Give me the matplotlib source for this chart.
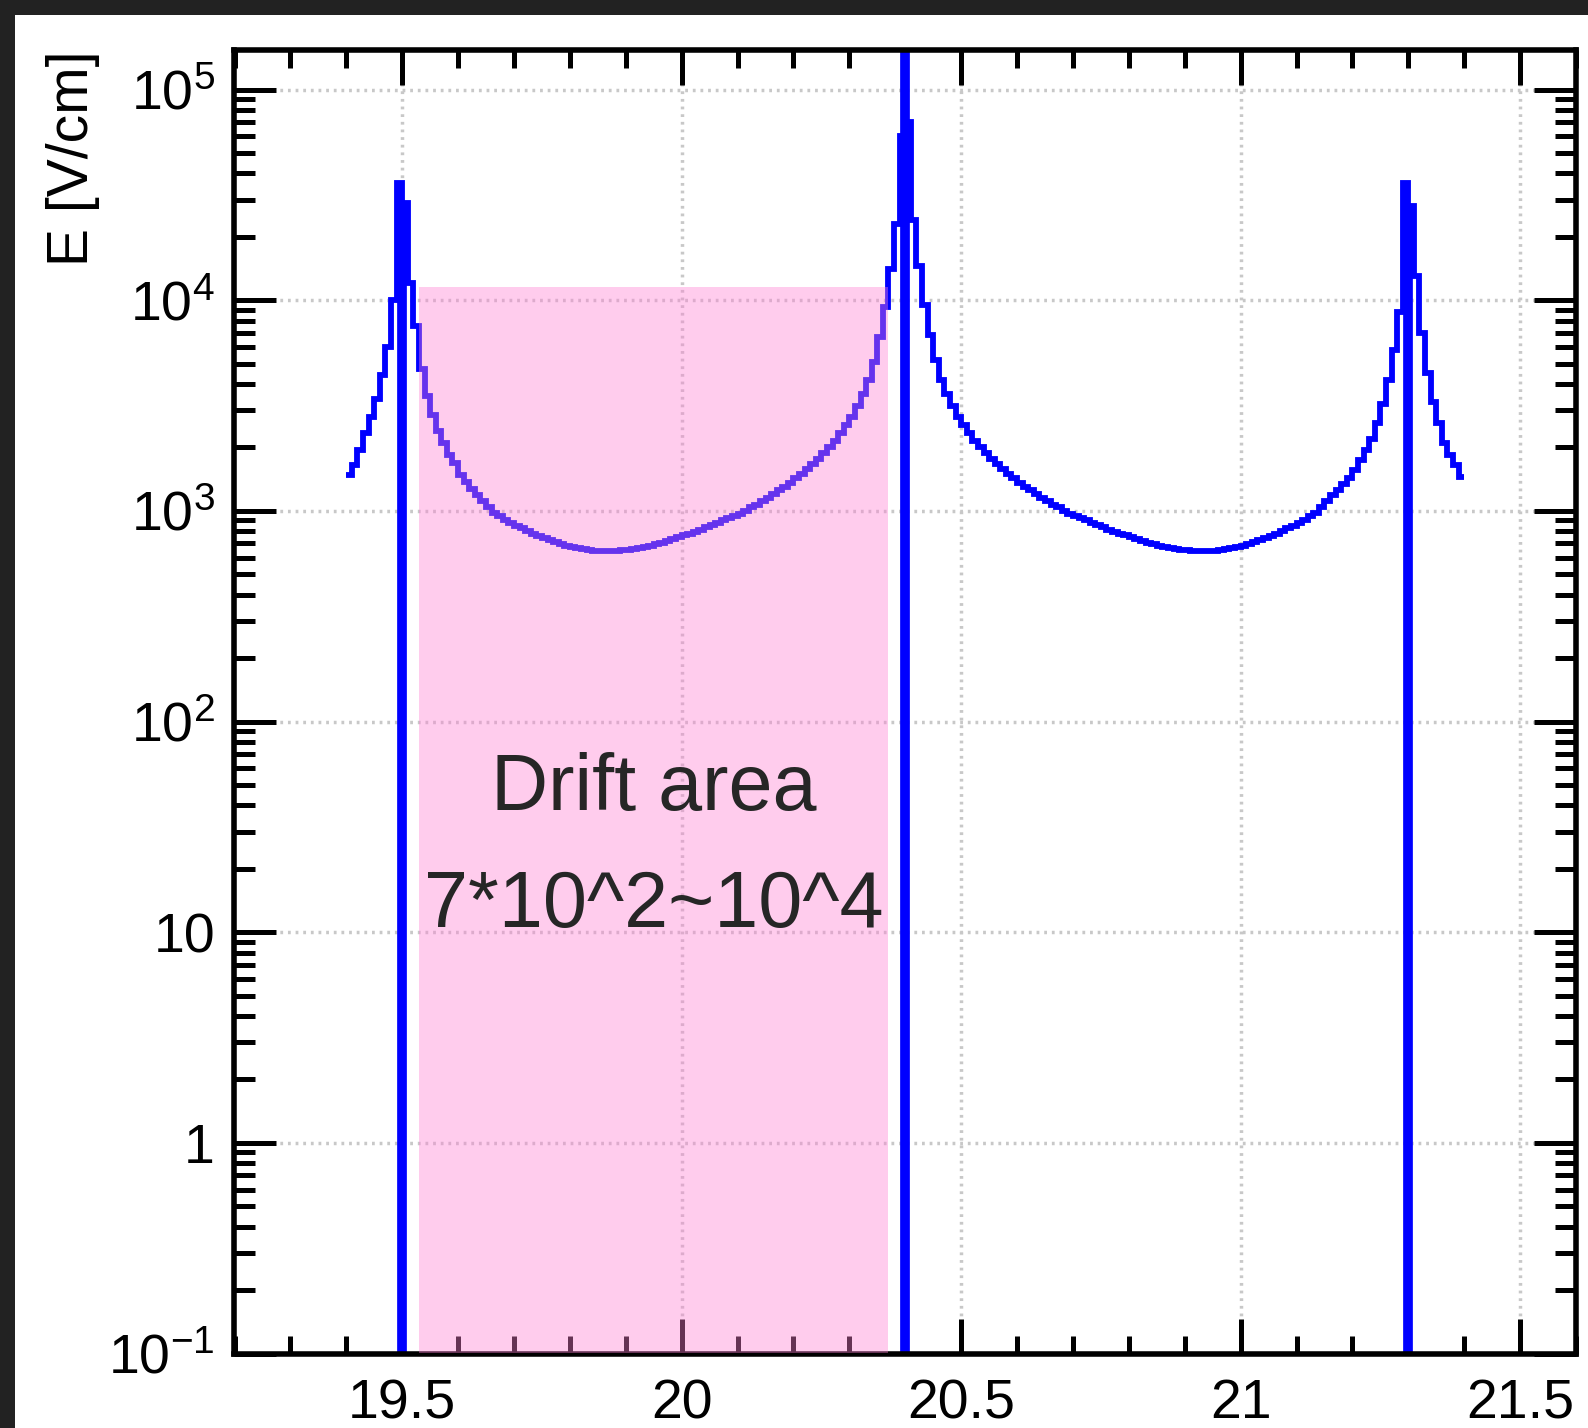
import matplotlib
matplotlib.use('Agg')
import matplotlib.pyplot as plt
import numpy as np
from matplotlib.patches import Rectangle
from matplotlib.ticker import FixedLocator, MultipleLocator, LogLocator, NullFormatter

plt.rcParams['font.family'] = ['Liberation Sans', 'DejaVu Sans']
plt.rcParams['mathtext.fontset'] = 'custom'
plt.rcParams['mathtext.rm'] = 'Liberation Sans'
plt.rcParams['mathtext.it'] = 'Liberation Sans:italic'
plt.rcParams['mathtext.bf'] = 'Liberation Sans:bold'

# field histogram: 200 bins of 0.01 between 19.4 and 21.4
x_lo, x_hi, n_bins = 19.4, 21.4, 200
field = [
    1480, 1650, 1950, 2330, 2800, 3400, 4400, 6000, 10000, 36000,
    29000, 12000, 7500, 4700, 3500, 2850, 2400, 2100, 1850, 1680,
    1480, 1370, 1270, 1190, 1110, 1040, 980, 940, 905, 875,
    850, 825, 800, 780, 762, 745, 727, 710, 695, 682,
    672, 664, 657, 652, 648, 646, 645, 645, 647, 650,
    653, 658, 665, 672, 683, 695, 705, 720, 735, 750,
    765, 780, 795, 815, 835, 855, 875, 900, 920, 945,
    970, 1000, 1040, 1070, 1110, 1150, 1200, 1250, 1300, 1360,
    1430, 1500, 1580, 1670, 1770, 1880, 2000, 2150, 2350, 2550,
    2800, 3150, 3600, 4200, 5100, 6700, 9300, 14000, 23000, 60000,
    70000, 24000, 14500, 9500, 6800, 5200, 4200, 3600, 3150, 2800,
    2550, 2350, 2150, 2000, 1880, 1770, 1670, 1580, 1500, 1430,
    1360, 1300, 1250, 1200, 1150, 1110, 1070, 1040, 1000, 970,
    945, 920, 900, 875, 855, 835, 815, 795, 780, 765,
    750, 735, 720, 705, 695, 683, 672, 665, 658, 653,
    650, 647, 645, 645, 646, 648, 652, 657, 664, 672,
    682, 695, 710, 727, 745, 762, 780, 800, 825, 850,
    875, 905, 940, 980, 1040, 1110, 1185, 1260, 1340, 1430,
    1560, 1740, 1950, 2200, 2600, 3200, 4200, 5800, 8800, 36000,
    28000, 13000, 7000, 4500, 3300, 2600, 2100, 1850, 1650, 1450,
]

# wires (field goes to zero inside -> line down to the bottom)
wire_x = [19.5, 20.4, 21.3]
wire_top = [29000, 2e5, 28000]

# drift region box
drift_x = [19.53, 20.37]
drift_top = 1.15e4
drift_text = ['Drift area', '7*10^2~10^4']

x_ticks = [19.5, 20, 20.5, 21, 21.5]
x_tick_labels = ['19.5', '20', '20.5', '21', '21.5']
y_ticks = [0.1, 1, 10, 100, 1e3, 1e4, 1e5]
y_tick_labels = [r'$10^{-1}$', '1', '10', r'$10^{2}$', r'$10^{3}$', r'$10^{4}$', r'$10^{5}$']

x_min, x_max = 19.2, 21.6
y_min, y_max = 0.1, 1.54e5

W, H = 1588, 1428
fig = plt.figure(figsize=(W / 100, H / 100), dpi=100)
fig.patch.set_facecolor('#222222')
fig.add_artist(Rectangle((15 / W, 0), 1, 1 - 15 / H, transform=fig.transFigure,
                         facecolor='white', edgecolor='none', zorder=-10))

ax = fig.add_axes([234.5 / W, (H - 1353.5) / H, (1576 - 234.5) / W, (1353.5 - 50) / H])
ax.set_yscale('log')

edges = np.linspace(x_lo, x_hi, n_bins + 1)
ax.stairs(field, edges, baseline=None, color='#0000ff', lw=4.2, zorder=2)
ax.vlines(wire_x, y_min, wire_top, color='#0000ff', lw=7, zorder=2)

# drift area shading drawn on top (tints the curve purple)
ax.fill_between(drift_x, y_min, drift_top, color='#ff80d4', alpha=0.4, lw=0, zorder=3)
ax.text(np.mean(drift_x), 38, drift_text[0], ha='center', va='baseline',
        fontsize=57, color='#262626', zorder=5)
ax.text(np.mean(drift_x), 10.6, drift_text[1], ha='center', va='baseline',
        fontsize=57, color='#262626', zorder=5)

ax.set_xlim(x_min, x_max)
ax.set_ylim(y_min, y_max)

ax.xaxis.set_major_locator(FixedLocator(x_ticks))
ax.set_xticklabels(x_tick_labels)
ax.xaxis.set_minor_locator(MultipleLocator(0.1))
ax.yaxis.set_major_locator(FixedLocator(y_ticks))
ax.set_yticklabels(y_tick_labels)
ax.yaxis.set_minor_locator(LogLocator(base=10, subs=np.arange(2, 10), numticks=20))
ax.yaxis.set_minor_formatter(NullFormatter())

ax.grid(True, which='major', color='#c8c8c8', lw=2.5, linestyle=(0, (0.8, 1.4)))

for s in ax.spines.values():
    s.set_linewidth(4)
ax.tick_params(which='both', direction='in', top=True, right=True, width=3.6,
               labelsize=40)
ax.tick_params(axis='x', which='major', length=25, pad=18)
ax.tick_params(axis='x', which='minor', length=13)
ax.tick_params(axis='y', which='major', length=30, pad=14)
ax.tick_params(axis='y', which='minor', length=15)

ax.set_ylabel('E [V/cm]', fontsize=41, loc='top')
ax.yaxis.set_label_coords(-0.10, 1.0)

fig.savefig('out.png', dpi=100)
